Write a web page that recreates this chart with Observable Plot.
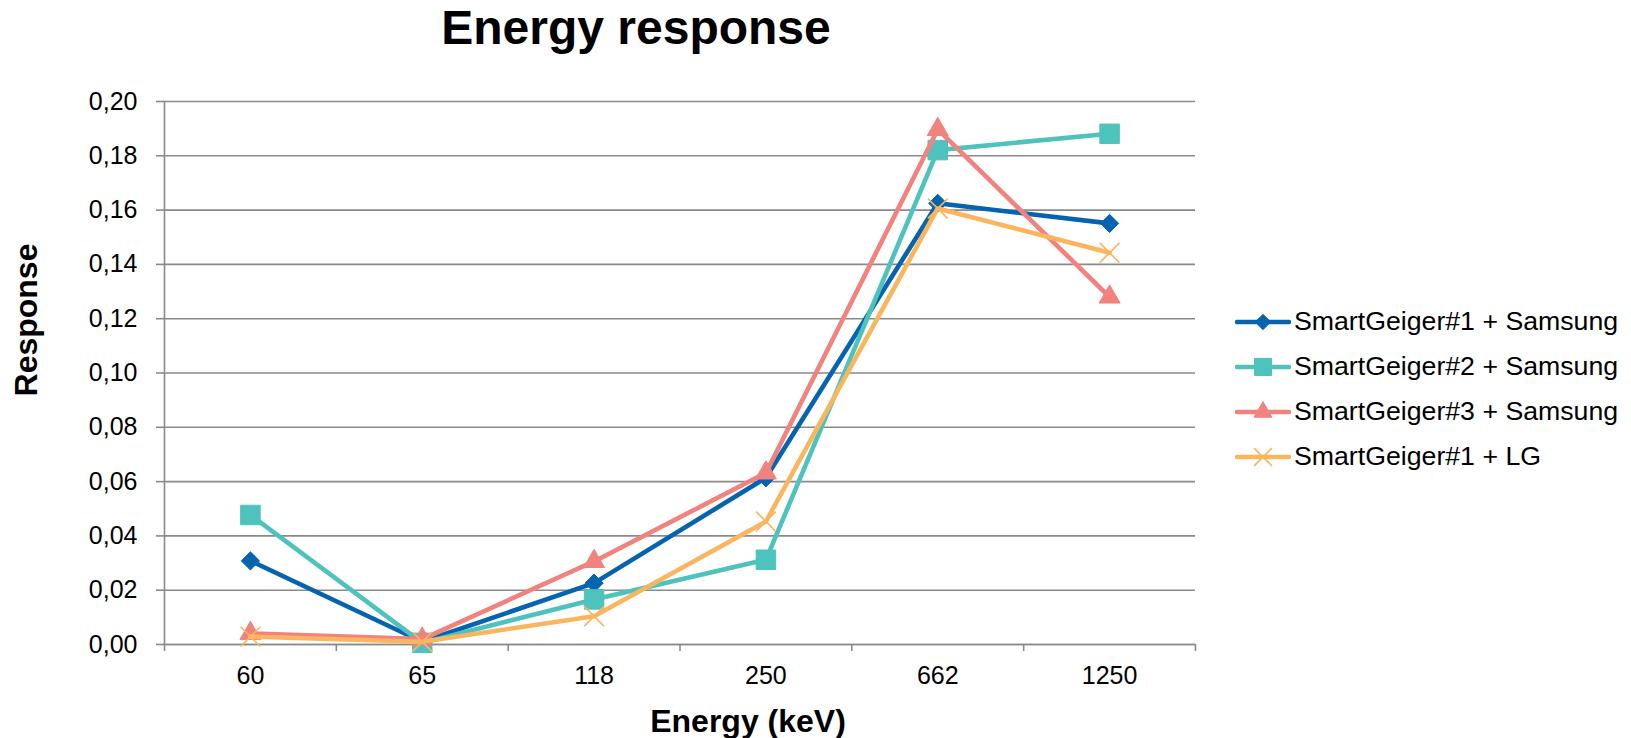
<!DOCTYPE html>
<html>
<head>
<meta charset="utf-8">
<script src="https://cdn.jsdelivr.net/npm/d3@7"></script>
<script src="https://cdn.jsdelivr.net/npm/@observablehq/plot@0.6"></script>
<style>
  body { margin: 0; background: #fff; }
  #chart { position: relative; width: 1631px; height: 738px; font-family: "Liberation Sans", Arial, sans-serif; color: #000; overflow: hidden; }
  #chart svg.plot { position: absolute; left: 0; top: 0; }
  #title { position: absolute; left: 0; top: 4px; width: 1272px; text-align: center; font-size: 48px; line-height: 48px; font-weight: bold; }
  #xlabel { position: absolute; left: 548px; top: 705px; width: 400px; text-align: center; font-size: 32px; line-height: 32px; font-weight: bold; }
  #ylabel { position: absolute; left: -124px; top: 304px; width: 300px; height: 32px; text-align: center; font-size: 32px; line-height: 32px; font-weight: bold; transform: rotate(-90deg); }
  #legend { position: absolute; left: 1235px; top: 299px; }
  #legend .row { display: flex; align-items: center; height: 45px; }
  #legend .row span { font-size: 26.7px; line-height: 45px; margin-left: 3px; white-space: nowrap; }
</style>
</head>
<body>
<div id="chart">
  <div id="title">Energy response</div>
  <div id="ylabel">Response</div>
  <div id="xlabel">Energy (keV)</div>
  <div id="legend"></div>
</div>
<script>
// Source energies (keV), used as categories along x
const energies = ["60", "65", "118", "250", "662", "1250"];

// Series labels, in legend order
const seriesNames = [
  "SmartGeiger#1 + Samsung",
  "SmartGeiger#2 + Samsung",
  "SmartGeiger#3 + Samsung",
  "SmartGeiger#1 + LG"
];

// Measured response per energy
const geiger1Samsung = [0.0308, 0.0010, 0.0226, 0.0614, 0.1625, 0.1551];
const geiger2Samsung = [0.0477, 0.0006, 0.0166, 0.0312, 0.1821, 0.1881];
const geiger3Samsung = [0.0041, 0.0020, 0.0306, 0.0632, 0.1897, 0.1280];
const geiger1LG      = [0.0029, 0.0010, 0.0104, 0.0453, 0.1606, 0.1443];

const seriesValues = [geiger1Samsung, geiger2Samsung, geiger3Samsung, geiger1LG];
const seriesColors = ["#0563B0", "#4EC2BD", "#F2827E", "#F9B65F"];
const seriesSymbols = ["diamond2", "square", "triangle", "times"];
const markerRadius = [8.2, 11, 7.8, 9];

// Response axis ticks
const yTicks = d3.range(0, 0.2001, 0.02);
const formatY = d => d.toFixed(2).replace(".", ",");

const gridColor = "#8A8A8A";

// Long-format rows: one per series and energy
const rows = seriesNames.flatMap((name, s) =>
  energies.map((e, i) => ({series: name, index: i, energy: e, value: seriesValues[s][i]}))
);

const catIdx = d3.range(energies.length);
const catEdges = d3.range(-0.5, energies.length, 1);

const seriesMarks = seriesNames.flatMap((name, s) => {
  const data = rows.filter(r => r.series === name);
  const sym = seriesSymbols[s];
  const hollow = sym === "times";
  return [
    Plot.line(data, {x: "index", y: "value", stroke: seriesColors[s], strokeWidth: 4.6, strokeLinejoin: "round", strokeLinecap: "round"}),
    Plot.dot(data, {
      x: "index", y: "value", symbol: sym, r: markerRadius[s],
      fill: hollow ? "none" : seriesColors[s],
      stroke: seriesColors[s], strokeWidth: hollow ? 1.6 : 1
    })
  ];
});

const plot = Plot.plot({
  width: 1631,
  height: 738,
  marginLeft: 164,
  marginRight: 436,
  marginTop: 101,
  marginBottom: 94,
  style: {fontFamily: "'Liberation Sans', Arial, sans-serif", fontSize: "25px", color: "#000", background: "transparent", overflow: "visible"},
  x: {domain: [-0.5, energies.length - 0.5]},
  y: {domain: [0, 0.2]},
  symbol: {type: "identity"},
  marks: [
    Plot.gridY(yTicks, {stroke: gridColor, strokeOpacity: 1, strokeWidth: 1.6}),
    Plot.ruleX([-0.5], {stroke: gridColor, strokeWidth: 1.6}),
    Plot.ruleY([0], {stroke: gridColor, strokeWidth: 1.6}),
    Plot.axisY(yTicks, {tickSize: 8, tickPadding: 19, tickFormat: formatY, stroke: gridColor, strokeWidth: 1.6, label: null}),
    Plot.axisX(catEdges, {tickSize: 7, tickFormat: () => "", stroke: gridColor, strokeWidth: 1.6, label: null}),
    Plot.axisX(catIdx, {tickSize: 0, tickPadding: 22, tickFormat: i => energies[i], label: null}),
    ...seriesMarks
  ]
});
plot.classList.add("plot");
document.getElementById("chart").prepend(plot);

// Legend: line swatch with its marker, then the series name
const symbolTypes = {diamond2: d3.symbolDiamond2, square: d3.symbolSquare, triangle: d3.symbolTriangle, times: d3.symbolTimes};
const legendSizes = [150, 290, 140, 210];
const legend = d3.select("#legend");
seriesNames.forEach((name, s) => {
  const row = legend.append("div").attr("class", "row");
  const svg = row.append("svg").attr("width", 56).attr("height", 24);
  svg.append("line").attr("x1", 2).attr("x2", 54).attr("y1", 12).attr("y2", 12)
    .attr("stroke", seriesColors[s]).attr("stroke-width", 4.6).attr("stroke-linecap", "round");
  const hollow = seriesSymbols[s] === "times";
  svg.append("path").attr("transform", "translate(28,12)")
    .attr("d", d3.symbol(symbolTypes[seriesSymbols[s]], legendSizes[s])())
    .attr("fill", hollow ? "none" : seriesColors[s])
    .attr("stroke", seriesColors[s]).attr("stroke-width", hollow ? 1.6 : 1);
  row.append("span").text(name);
});
</script>
</body>
</html>
